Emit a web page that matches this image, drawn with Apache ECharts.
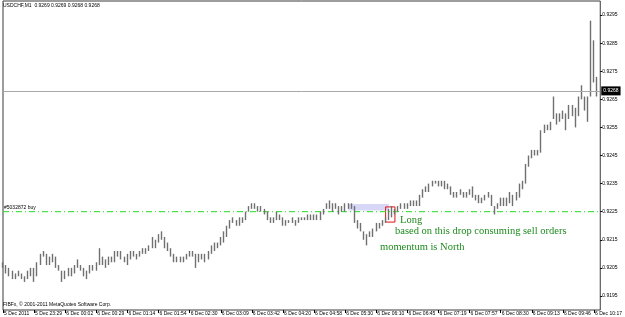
<!DOCTYPE html>
<html><head><meta charset="utf-8">
<script src="https://cdn.jsdelivr.net/npm/echarts@6/dist/echarts.min.js"></script>
<style>html,body{margin:0;padding:0;background:#fff}#c{width:625px;height:317px}</style>
</head><body><div id="c"></div>
<script>
const tickLabels = ['5 Dec 2011','5 Dec 23:29','6 Dec 00:02','6 Dec 00:29','6 Dec 01:14','6 Dec 01:54','6 Dec 02:30','6 Dec 03:09','6 Dec 03:42','6 Dec 04:20','6 Dec 04:58','6 Dec 05:30','6 Dec 06:10','6 Dec 06:45','6 Dec 07:19','6 Dec 07:57','6 Dec 08:30','6 Dec 09:13','6 Dec 09:46','6 Dec 10:17'];
const priceTicks = [0.9195,0.9205,0.9215,0.9225,0.9235,0.9245,0.9255,0.9265,0.9275,0.9285,0.9295];
const highs = [
0.9207,0.9206,0.9205,0.9204,0.9203,0.9204,0.9203,0.9202,0.9204,0.9205,
0.9205,0.9207,0.9210,0.9211,0.9210,0.9209,0.9210,0.9209,0.9206,0.9204,
0.9204,0.9205,0.9205,0.9206,0.9208,0.9206,0.9205,0.9204,0.9206,0.9206,
0.9207,0.9212,0.9209,0.9208,0.9209,0.9209,0.9211,0.9211,0.9211,0.9209,
0.9210,0.9211,0.9211,0.9210,0.9211,0.9212,0.9212,0.9213,0.9216,0.9215,
0.9217,0.9218,0.9216,0.9214,0.9212,0.9210,0.9209,0.9209,0.9209,0.9210,
0.9211,0.9211,0.9210,0.9210,0.9210,0.9210,0.9211,0.9213,0.9214,0.9214,
0.9216,0.9218,0.9220,0.9222,0.9223,0.9222,0.9223,0.9223,0.9225,0.9227,
0.9228,0.9228,0.9227,0.9227,0.9226,0.9225,0.9223,0.9223,0.9225,0.9224,
0.9223,0.9222,0.9222,0.9223,0.9222,0.9223,0.9223,0.9223,0.9224,0.9224,
0.9224,0.9224,0.9225,0.9226,0.9228,0.9229,0.9228,0.9228,0.9227,0.9227,
0.9228,0.9228,0.9228,0.9227,0.9222,0.9221,0.9218,0.9217,0.9218,0.9219,
0.9221,0.9221,0.9222,0.9223,0.9226,0.9227,0.9226,0.9227,0.9228,0.9228,
0.9228,0.9229,0.9229,0.9229,0.9231,0.9233,0.9234,0.9235,0.9236,0.9236,
0.9236,0.9236,0.9236,0.9235,0.9234,0.9232,0.9232,0.9233,0.9232,0.9232,
0.9233,0.9234,0.9231,0.9231,0.9230,0.9231,0.9232,0.9231,0.9227,0.9228,
0.9230,0.9230,0.9230,0.9232,0.9231,0.9232,0.9235,0.9236,0.9242,0.9245,
0.9247,0.9247,0.9247,0.9254,0.9256,0.9256,0.9257,0.9266,0.9260,0.9260,
0.9261,0.9260,0.9263,0.9263,0.9262,0.9266,0.9270,0.9266,0.9266,0.9293,
0.9286,0.9273,0.9270];
const lows = [
0.9205,0.9203,0.9202,0.9201,0.9201,0.9202,0.9201,0.9200,0.9201,0.9202,
0.9200,0.9202,0.9206,0.9209,0.9206,0.9206,0.9207,0.9205,0.9204,0.9200,
0.9201,0.9202,0.9202,0.9203,0.9205,0.9204,0.9202,0.9201,0.9203,0.9204,
0.9204,0.9206,0.9206,0.9205,0.9206,0.9207,0.9207,0.9209,0.9208,0.9207,
0.9206,0.9208,0.9209,0.9208,0.9209,0.9210,0.9210,0.9211,0.9212,0.9212,
0.9214,0.9215,0.9212,0.9211,0.9209,0.9207,0.9207,0.9207,0.9207,0.9208,
0.9209,0.9209,0.9205,0.9207,0.9208,0.9207,0.9208,0.9210,0.9211,0.9212,
0.9213,0.9214,0.9216,0.9219,0.9221,0.9220,0.9220,0.9221,0.9222,0.9225,
0.9226,0.9226,0.9225,0.9225,0.9224,0.9222,0.9221,0.9221,0.9222,0.9222,
0.9220,0.9220,0.9221,0.9221,0.9220,0.9221,0.9222,0.9222,0.9222,0.9222,
0.9222,0.9222,0.9222,0.9224,0.9226,0.9226,0.9225,0.9226,0.9224,0.9225,
0.9225,0.9226,0.9226,0.9221,0.9219,0.9218,0.9215,0.9213,0.9216,0.9216,
0.9218,0.9219,0.9220,0.9221,0.9222,0.9223,0.9224,0.9225,0.9226,0.9226,
0.9226,0.9227,0.9227,0.9227,0.9227,0.9230,0.9232,0.9232,0.9234,0.9235,
0.9234,0.9234,0.9233,0.9233,0.9231,0.9230,0.9230,0.9231,0.9230,0.9230,
0.9231,0.9230,0.9229,0.9228,0.9228,0.9229,0.9230,0.9227,0.9224,0.9226,
0.9227,0.9227,0.9227,0.9228,0.9227,0.9229,0.9230,0.9233,0.9235,0.9241,
0.9244,0.9245,0.9245,0.9246,0.9253,0.9254,0.9254,0.9258,0.9256,0.9257,
0.9258,0.9254,0.9258,0.9259,0.9255,0.9259,0.9265,0.9261,0.9257,0.9266,
0.9271,0.9266,0.9266];
const orderPrice = 0.9225;
const lastPrice = 0.9268;
const quoteTitle = 'USDCHF,M1  0.9269 0.9269 0.9268 0.9268';
const orderLabel = '#5032872 buy';
const copyright = 'FIBFx, \u00a9 2001-2011 MetaQuotes Software Corp.';
const noteLines = ['Long', 'based on this drop consuming sell orders', 'momentum is North'];
const zoneBand = {from: 111, to: 124, top: 0.92277, bottom: 0.92254};
const entryBox = {from: 123, to: 126, top: 0.92267, bottom: 0.92213};

const cats = highs.map((_, i) => 'b' + i);
const candles = highs.map((h, i) => [lows[i], h, lows[i], h]);
const lastIdx = highs.length - 1;
const isLabelBar = i => i % 10 === 0;
const small = "5px 'Liberation Sans', Arial, sans-serif";
const serif = "10.5px 'Liberation Serif', 'Times New Roman', serif";
const green = '#1f8a1f';
const orderGreen = '#22dd22';
const barGray = '#707070';

const chart = echarts.init(document.getElementById('c'), null, {renderer: 'canvas'});
chart.setOption({
  animation: false,
  backgroundColor: '#fff',
  grid: {left: 3, right: 18, top: 1, bottom: 7, show: true, borderColor: '#3a3a3a', borderWidth: 1, backgroundColor: 'transparent'},
  xAxis: {
    type: 'category', data: cats, boundaryGap: false,
    axisLine: {show: false},
    axisTick: {show: true, interval: isLabelBar, length: 3, lineStyle: {color: '#000'}},
    axisLabel: {interval: isLabelBar, formatter: (v, i) => tickLabels[i / 10] || '', align: 'left', fontSize: 5, fontFamily: 'Liberation Sans', color: '#000', margin: 1, padding: [0,0,0,1]},
    splitLine: {show: false}
  },
  yAxis: {
    type: 'value', position: 'right', min: 0.9190, max: 0.9300,
    axisLine: {show: false},
    axisTick: {show: true, customValues: priceTicks, length: 2, lineStyle: {color: '#000'}},
    axisLabel: {customValues: priceTicks, formatter: v => v.toFixed(4), fontSize: 5, fontFamily: 'Liberation Sans', color: '#000', margin: 2},
    splitLine: {show: false}
  },
  series: [
    {
      type: 'line', data: [], silent: true, z: 1,
      markLine: {
        silent: true, symbol: ['none', 'none'], animation: false,
        lineStyle: {color: '#a8a8a8', type: 'solid', width: 1, opacity: 1},
        label: {show: true, formatter: lastPrice.toFixed(4), position: 'end', fontSize: 5, fontFamily: 'Liberation Sans', color: '#fff', backgroundColor: '#000', padding: [2, 2], distance: 1},
        data: [[{coord: [0, lastPrice]}, {coord: [lastIdx, lastPrice]}]]
      },
      markArea: {
        silent: true,
        itemStyle: {color: 'rgba(205,205,245,0.8)'},
        data: [[{xAxis: zoneBand.from, yAxis: zoneBand.top}, {xAxis: zoneBand.to, yAxis: zoneBand.bottom}]]
      }
    },
    {
      name: 'order', type: 'line', silent: true, z: 2,
      color: orderGreen,
      symbol: 'circle', symbolSize: 0.01, showSymbol: true,
      lineStyle: {color: orderGreen, type: [6, 3, 1, 3], width: 1},
      itemStyle: {color: orderGreen},
      data: [
        {value: [0, orderPrice], label: {show: true, formatter: orderLabel, position: 'right', offset: [-4, -4], fontSize: 5, fontFamily: 'Liberation Sans', color: '#000'}},
        {value: [lastIdx, orderPrice]}
      ]
    },
    {
      type: 'candlestick', z: 3,
      data: candles,
      barWidth: 1,
      itemStyle: {color: barGray, color0: barGray, borderColor: barGray, borderColor0: barGray, borderWidth: 1.4},
      markArea: {
        silent: true,
        itemStyle: {color: 'rgba(0,0,0,0)', borderColor: '#e01010', borderWidth: 1},
        data: [[{xAxis: entryBox.from, yAxis: entryBox.top}, {xAxis: entryBox.to, yAxis: entryBox.bottom}]]
      }
    }
  ],
  graphic: [
    {type: 'text', left: 3, top: 3, style: {text: quoteTitle, font: small, fill: '#000'}},
    {type: 'text', left: 3, top: 302, style: {text: copyright, font: small, fill: '#000'}},
    {type: 'text', left: 400, top: 215, style: {text: noteLines[0], font: serif, fill: green}},
    {type: 'text', left: 395, top: 226, style: {text: noteLines[1], font: serif, fill: green}},
    {type: 'text', left: 380, top: 242, style: {text: noteLines[2], font: serif, fill: green}}
  ]
});
</script></body></html>
